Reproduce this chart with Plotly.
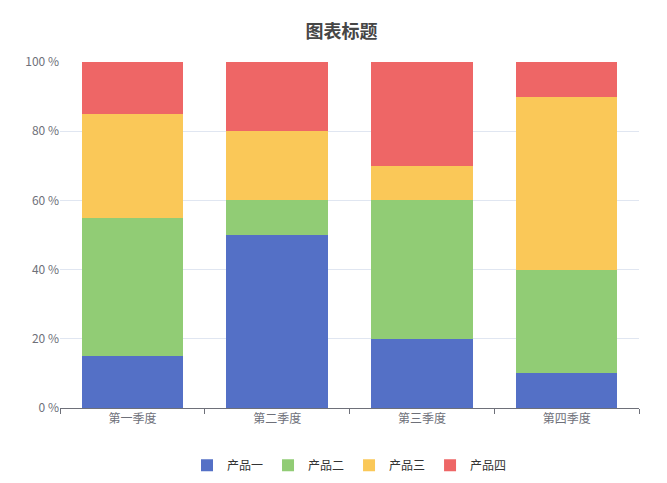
import plotly.graph_objects as go

categories = ["第一季度", "第二季度", "第三季度", "第四季度"]
series_names = ["产品一", "产品二", "产品三", "产品四"]
p1 = [15, 50, 20, 10]
p2 = [40, 10, 40, 30]
p3 = [30, 20, 10, 50]
p4 = [15, 20, 30, 10]
colors = ["#5470c6", "#91cc75", "#fac858", "#ee6666"]

fig = go.Figure()
for name, vals, c in zip(series_names, [p1, p2, p3, p4], colors):
    fig.add_trace(go.Bar(x=categories, y=vals, name=name, marker=dict(color=c, line=dict(width=0))))

fig.update_layout(
    barmode="stack",
    bargap=0.3,
    width=667, height=483,
    paper_bgcolor="white", plot_bgcolor="white",
    font=dict(family="Noto Sans CJK SC", size=12, color="#6e7079"),
    title=dict(text="<b>图表标题</b>", x=0.5, xanchor="center", y=0.95, yanchor="middle",
               font=dict(size=18, color="#464646")),
    margin=dict(l=52, r=36, t=54, b=82),
    legend=dict(orientation="h", x=0.5, xanchor="center", y=-0.12, yanchor="top",
                traceorder="normal", font=dict(size=12, color="#333")),
    xaxis=dict(showline=True, linecolor="#6e7079", ticks="outside", tickcolor="#6e7079",
               showgrid=False, tickson="boundaries"),
    yaxis=dict(range=[0, 100], dtick=20, ticksuffix=" %", gridcolor="#e0e6f1",
               showline=False, zeroline=False),
)
fig.write_html("out.html")
